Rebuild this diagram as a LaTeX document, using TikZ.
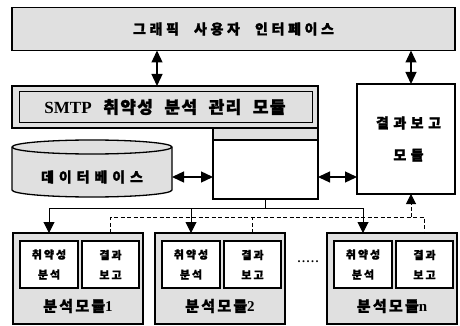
\documentclass[tikz,border=0pt]{standalone}
\usepackage{fontspec}
\setmainfont{Liberation Serif}
\newfontfamily\krB[FakeBold=1.5,LetterSpace=20,WordSpace=2.2]{Noto Sans CJK KR}
\newfontfamily\krL[FakeBold=1.2,LetterSpace=18]{Noto Sans CJK KR}
\newcommand\lsp[1]{\addfontfeature{LetterSpace=#1}}
\newcommand\latb[1]{{\rmfamily\bfseries #1}}
\usetikzlibrary{arrows.meta}
\begin{document}
\begin{tikzpicture}[x=1pt,y=-1pt,
  box/.style={draw,inner sep=0pt,outer sep=0pt,align=center},
  graybox/.style={box,fill=black!12},
  whitebox/.style={box,fill=white},
  biarrow/.style={{Triangle[length=12pt,width=11pt]}-{Triangle[length=12pt,width=11pt]},line width=1.3pt},
  busline/.style={line width=1pt},
  dashline/.style={line width=1pt,dash pattern=on 4pt off 2.5pt},
  smalltext/.style={font=\krL\bfseries\fontsize{11}{20}\selectfont},
]
\useasboundingbox (0,0) rectangle (460,326);

% GUI
\node[graybox,line width=1.3pt,minimum width=443pt,minimum height=43pt,
      font=\krB\bfseries\fontsize{14}{16}\selectfont\lsp{26}] (gui) at (233.5,29) {그래픽 사용자 인터페이스};

% SMTP management module (L shape)
\node[graybox,line width=2.6pt,minimum width=306pt,minimum height=42pt,
      font=\krB\bfseries\fontsize{17}{19}\selectfont\lsp{8}] (smtp) at (165,107) {\latb{SMTP} 취약성 분석 관리 모듈};
\draw[line width=0.8pt] ([shift={(7,5)}]smtp.north west) rectangle ([shift={(-6,-6)}]smtp.south east);
\node[graybox,line width=2.6pt,minimum width=105pt,minimum height=12pt] (smtpc) at (265.5,134) {};
\node[whitebox,line width=2.6pt,minimum width=105pt,minimum height=59pt] (core) at (265.5,169.5) {};

% Database
\filldraw[fill=black!12,line width=1.3pt] (12,147) -- (12,190)
  arc[start angle=180,end angle=360,x radius=80pt,y radius=7pt] -- (172,147)
  arc[start angle=0,end angle=180,x radius=80pt,y radius=7pt] -- cycle;
\draw[line width=1.3pt] (12,147) arc[start angle=180,end angle=360,x radius=80pt,y radius=7pt];
\node[inner sep=0pt,outer sep=0pt,minimum width=160pt,minimum height=57pt] (db) at (92,168.5) {};
\node[inner sep=0pt,font=\krB\bfseries\fontsize{14}{16}\selectfont\lsp{35}] (dbt) at (92,177) {데이터베이스};

% Report module
\node[whitebox,line width=2.6pt,minimum width=98pt,minimum height=110pt,
      font=\krB\bfseries\fontsize{14}{32}\selectfont\lsp{32}] (report) at (406,139) {\hspace*{5pt}결과보고\\\hspace*{5pt}모듈};

% helper coordinates
\coordinate (xa) at (157,0);
\coordinate (xb) at (411,0);
\coordinate (yh) at (0,177);
\coordinate (ybus) at (0,208);
\coordinate (ydash) at (0,217);

% Analysis modules
\foreach \n/\x in {1/13,2/155,n/327}{
  \node[graybox,line width=2.6pt,minimum width=130pt,minimum height=91pt] (m\n) at (\x+65,278.5) {};
  \node[whitebox,line width=1.4pt,minimum width=58pt,minimum height=47pt,smalltext] (m\n a) at (\x+36,264.5) {취약성\\분석};
  \node[whitebox,line width=1.4pt,minimum width=57pt,minimum height=47pt,smalltext] (m\n r) at (\x+97.5,264.5) {결과\\보고};
  \node[inner sep=0pt,font=\krB\bfseries\fontsize{15}{17}\selectfont\lsp{15}] (m\n t) at (\x+65,306) {분석모듈\latb{\n}};
}
\node[font=\rmfamily\bfseries\fontsize{12}{14}\selectfont,inner sep=0pt] (dots) at (308,262) {.\kern1.5pt.\kern1.5pt.\kern1.5pt.\kern1.5pt.};

% Arrows
\draw[biarrow] (gui.south -| xa) -- (smtp.north -| xa);
\draw[biarrow] (gui.south -| xb) -- (report.north -| xb);
\draw[biarrow] (db.east |- yh) -- (core.west |- yh);
\draw[biarrow] (core.east |- yh) -- (report.west |- yh);

% Solid bus
\draw[busline] (core.south) -- (core.south |- ybus);
\draw[busline] (m1a.north |- ybus) -- (mna.north |- ybus);
\foreach \n in {1,2,n}{
  \draw[busline,-{Triangle[length=11pt,width=11pt]}] (m\n a.north |- ybus) -- (m\n.north -| m\n a.north);
}

% Dashed result lines
\draw[dashline] (m1.north -| m1r.north) -- (m1r.north |- ydash) -- (mnr.north |- ydash) -- (mn.north -| mnr.north);
\draw[dashline] (m2.north -| m2r.north) -- (m2r.north |- ydash);
\draw[dashline,-{Triangle[length=10pt,width=10pt]}] (xb |- ydash) -- (report.south -| xb);
\end{tikzpicture}
\end{document}
